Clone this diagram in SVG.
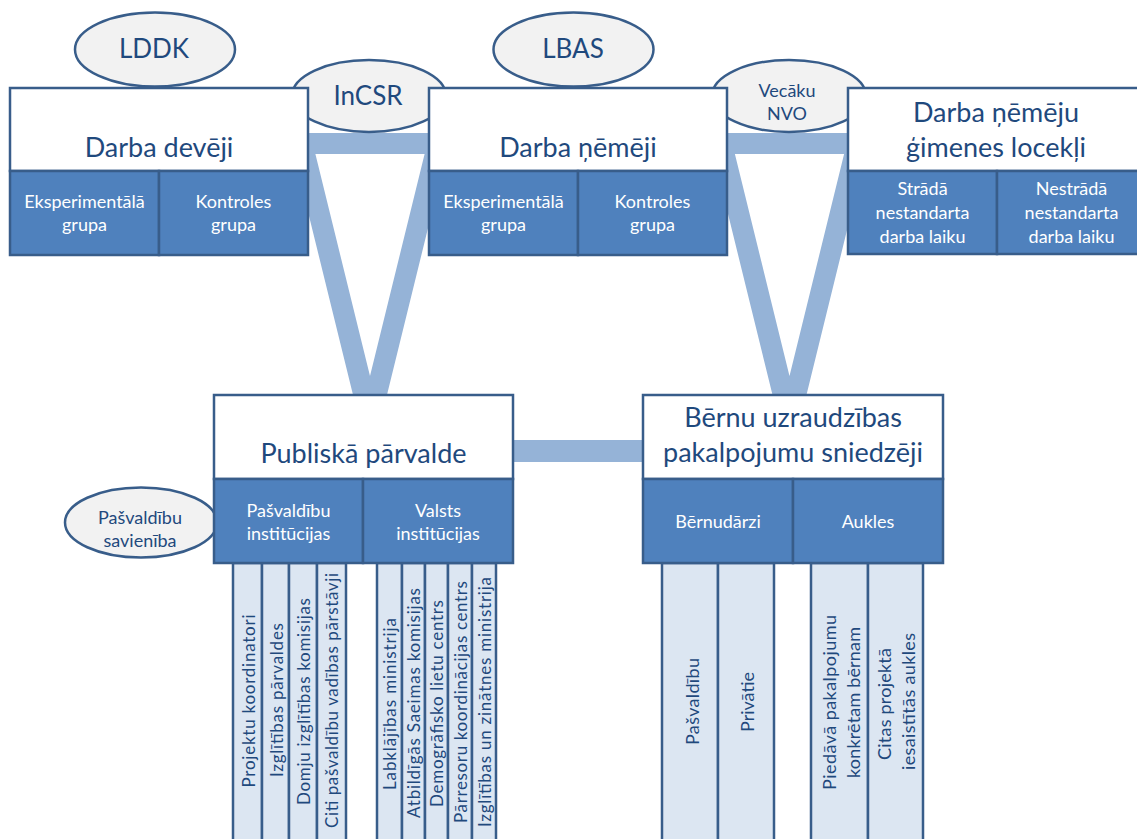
<svg xmlns="http://www.w3.org/2000/svg" width="1137" height="839" viewBox="0 0 1137 839">
<style>
.box{fill:#fff;stroke:#385D8A;stroke-width:2.5}
.cell{fill:#4F81BD;stroke:#385D8A;stroke-width:2.5}
.col{fill:#DCE6F2;stroke:#385D8A;stroke-width:2.5}
.ell{fill:#F2F2F2;stroke:#385D8A;stroke-width:2.5}
text{font-family:Lato,"Liberation Sans",sans-serif;fill:#1F497D;text-anchor:middle}
.title{font-size:27px}
.el{font-size:26px}
.sub{font-size:18px;fill:#fff}
.small{font-size:18px}
.vt{font-size:17px}
.vr{font-size:18px}
</style>
<rect width="1137" height="839" fill="#fff"/>
<g id="connectors" fill="none" stroke="#95B3D7" stroke-width="21">
<polygon points="302,143.5 438,143.5 370,420"/>
<polygon points="721.5,143.5 857.5,143.5 789.5,420"/>
<line x1="510" y1="451" x2="646" y2="451" stroke-width="22"/>
</g>
<g id="lddk">
<ellipse class="ell" cx="155" cy="49.5" rx="80" ry="37"/>
<text class="el" x="154" y="58">LDDK</text>
</g>
<g id="lbas">
<ellipse class="ell" cx="573.5" cy="49.5" rx="80" ry="37"/>
<text class="el" x="573" y="58">LBAS</text>
</g>
<g id="incsr">
<ellipse class="ell" cx="369" cy="96" rx="77" ry="36"/>
<text class="el" x="368" y="105">InCSR</text>
</g>
<g id="vecaku-nvo">
<ellipse class="ell" cx="789" cy="96" rx="77" ry="36"/>
<text class="small" x="787" y="97">Vecāku</text>
<text class="small" x="787" y="120">NVO</text>
</g>
<g id="pasvaldibu-savieniba">
<ellipse class="ell" cx="141" cy="522.5" rx="76" ry="35"/>
<text class="small" x="140" y="524">Pašvaldību</text>
<text class="small" x="140" y="547">savienība</text>
</g>
<g id="darba-deveji">
<rect class="box" x="10" y="88" width="298" height="83"/>
<text class="title" x="159" y="157">Darba devēji</text>
<rect class="cell" x="10" y="171" width="149" height="84"/>
<rect class="cell" x="159" y="171" width="149" height="84"/>
<text class="sub" x="84.5" y="208">Eksperimentālā</text>
<text class="sub" x="84.5" y="231">grupa</text>
<text class="sub" x="233.5" y="208">Kontroles</text>
<text class="sub" x="233.5" y="231">grupa</text>
</g>
<g id="darba-nemeji">
<rect class="box" x="429" y="88" width="298" height="83"/>
<text class="title" x="578" y="157">Darba ņēmēji</text>
<rect class="cell" x="429" y="171" width="149" height="84"/>
<rect class="cell" x="578" y="171" width="149" height="84"/>
<text class="sub" x="503.5" y="208">Eksperimentālā</text>
<text class="sub" x="503.5" y="231">grupa</text>
<text class="sub" x="652.5" y="208">Kontroles</text>
<text class="sub" x="652.5" y="231">grupa</text>
</g>
<g id="gimenes-locekli">
<rect class="box" x="848" y="88" width="298" height="83"/>
<text class="title" x="996" y="122">Darba ņēmēju</text>
<text class="title" x="996" y="157">ģimenes locekļi</text>
<rect class="cell" x="848" y="171" width="149" height="83"/>
<rect class="cell" x="997" y="171" width="149" height="83"/>
<text class="sub" x="922.5" y="195">Strādā</text>
<text class="sub" x="922.5" y="219">nestandarta</text>
<text class="sub" x="922.5" y="243">darba laiku</text>
<text class="sub" x="1071.5" y="195">Nestrādā</text>
<text class="sub" x="1071.5" y="219">nestandarta</text>
<text class="sub" x="1071.5" y="243">darba laiku</text>
</g>
<g id="publiska-parvalde">
<rect class="col" x="233" y="563" width="29" height="290"/>
<rect class="col" x="262" y="563" width="27" height="290"/>
<rect class="col" x="289" y="563" width="28" height="290"/>
<rect class="col" x="317" y="563" width="29" height="290"/>
<rect class="col" x="377" y="563" width="25" height="290"/>
<rect class="col" x="402" y="563" width="23" height="290"/>
<rect class="col" x="425" y="563" width="23" height="290"/>
<rect class="col" x="448" y="563" width="24" height="290"/>
<rect class="col" x="472" y="563" width="24" height="290"/>
<rect class="box" x="214" y="395" width="299" height="84"/>
<text class="title" x="363.5" y="463">Publiskā pārvalde</text>
<rect class="cell" x="214" y="479" width="149" height="84"/>
<rect class="cell" x="363" y="479" width="150" height="84"/>
<text class="sub" x="288.5" y="517">Pašvaldību</text>
<text class="sub" x="288.5" y="540">institūcijas</text>
<text class="sub" x="438" y="517">Valsts</text>
<text class="sub" x="438" y="540">institūcijas</text>
<g class="vt" dominant-baseline="central">
<text transform="translate(248.5,701) rotate(-90)" textLength="173" lengthAdjust="spacing">Projektu koordinatori</text>
<text transform="translate(276,700) rotate(-90)" textLength="154" lengthAdjust="spacing">Izglītības pārvaldes</text>
<text transform="translate(303,701.5) rotate(-90)" textLength="207" lengthAdjust="spacing">Domju izglītības komisijas</text>
<text transform="translate(331.5,700.5) rotate(-90)" textLength="255" lengthAdjust="spacing">Citi pašvaldību vadības pārstāvji</text>
<text transform="translate(389.5,704) rotate(-90)" textLength="172" lengthAdjust="spacing">Labklājības ministrija</text>
<text transform="translate(413.5,703) rotate(-90)" textLength="230" lengthAdjust="spacing">Atbildīgās Saeimas komisijas</text>
<text transform="translate(436.5,703.5) rotate(-90)" textLength="207" lengthAdjust="spacing">Demogrāfisko lietu centrs</text>
<text transform="translate(460,702) rotate(-90)" textLength="242" lengthAdjust="spacing">Pārresoru koordinācijas centrs</text>
<text transform="translate(484,702) rotate(-90)" textLength="250" lengthAdjust="spacing">Izglītības un zinātnes ministrija</text>
</g>
</g>
<g id="bernu-uzraudzibas">
<rect class="col" x="662" y="563" width="56" height="290"/>
<rect class="col" x="718" y="563" width="56" height="290"/>
<rect class="col" x="811" y="563" width="57" height="290"/>
<rect class="col" x="868" y="563" width="55" height="290"/>
<rect class="box" x="643" y="395" width="300" height="84"/>
<text class="title" x="793" y="427">Bērnu uzraudzības</text>
<text class="title" x="793" y="462">pakalpojumu sniedzēji</text>
<rect class="cell" x="643" y="479" width="150" height="84"/>
<rect class="cell" x="793" y="479" width="150" height="84"/>
<text class="sub" x="718" y="528">Bērnudārzi</text>
<text class="sub" x="868" y="528">Aukles</text>
<g class="vr" dominant-baseline="central">
<text transform="translate(692,701.5) rotate(-90)" textLength="87" lengthAdjust="spacing">Pašvaldību</text>
<text transform="translate(746.5,702) rotate(-90)" textLength="60" lengthAdjust="spacing">Privātie</text>
<text transform="translate(828.5,702.5) rotate(-90)" textLength="175" lengthAdjust="spacing">Piedāvā pakalpojumu</text>
<text transform="translate(852.5,702.5) rotate(-90)" textLength="151" lengthAdjust="spacing">konkrētam bērnam</text>
<text transform="translate(883.5,704) rotate(-90)" textLength="112" lengthAdjust="spacing">Citas projektā</text>
<text transform="translate(907.5,701.5) rotate(-90)" textLength="137" lengthAdjust="spacing">iesaistītās aukles</text>
</g>
</g>
</svg>
